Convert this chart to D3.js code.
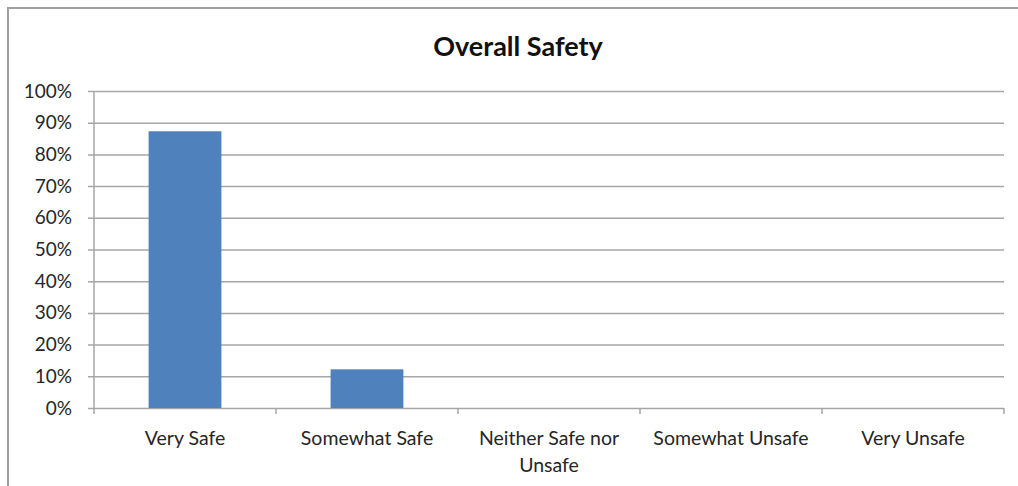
<!DOCTYPE html>
<html>
<head>
<meta charset="utf-8">
<script src="https://cdn.jsdelivr.net/npm/d3@7"></script>
<style>
  body { margin: 0; background: #fff; }
  svg text { font-family: Lato, "Open Sans", sans-serif; fill: #262626; }
</style>
</head>
<body>
<div class="bar-chart"></div>
<script>
// Data
const categories = ["Very Safe", "Somewhat Safe", "Neither Safe nor|Unsafe", "Somewhat Unsafe", "Very Unsafe"];
const shares = [0.873, 0.122, 0, 0, 0];
const yTicks = [0, 0.1, 0.2, 0.3, 0.4, 0.5, 0.6, 0.7, 0.8, 0.9, 1];

// Setup
const width = 1018, height = 486;
const margin = { top: 91, right: 14, bottom: 78, left: 94 };
const innerW = width - margin.left - margin.right;
const innerH = height - margin.top - margin.bottom;

const svg = d3.select(".bar-chart")
  .append("svg")
  .attr("width", width)
  .attr("height", height);

// frame (only top + left edges visible in the source)
svg.append("path")
  .attr("d", "M8,486 L8,8 L1018,8")
  .attr("fill", "none")
  .attr("stroke", "#a0a0a0")
  .attr("stroke-width", 2);

svg.append("text")
  .attr("x", 518)
  .attr("y", 56)
  .attr("text-anchor", "middle")
  .style("font-size", "27px")
  .style("font-weight", "bold")
  .style("fill", "#111")
  .text("Overall Safety");

const x = d3.scaleBand()
  .domain(categories)
  .range([0, innerW])
  .paddingInner(0.6)
  .paddingOuter(0.3);

const xEdge = d3.scaleLinear()
  .domain([0, categories.length])
  .range([0, innerW]);

const y = d3.scaleLinear()
  .domain([0, 1])
  .range([innerH, 0]);

const g = svg.append("g")
  .attr("transform", `translate(${margin.left},${margin.top})`);

// gridlines + y labels
const yAxis = g.append("g")
  .call(d3.axisLeft(y)
    .tickValues(yTicks)
    .tickSize(-innerW)
    .tickPadding(22)
    .tickFormat(d3.format(".0%")));

yAxis.select(".domain").remove();
yAxis.selectAll(".tick line")
  .attr("x1", -6)
  .attr("stroke", "#a6a6a6")
  .attr("stroke-width", 1.5);
yAxis.selectAll(".tick text")
  .style("font-size", "19px");

// y axis line
g.append("line")
  .attr("x1", 0).attr("x2", 0)
  .attr("y1", 0).attr("y2", innerH)
  .attr("stroke", "#a6a6a6")
  .attr("stroke-width", 1.5);

// category boundary ticks
g.append("g")
  .selectAll("line")
  .data(d3.range(categories.length + 1))
  .enter()
  .append("line")
  .attr("x1", d => xEdge(d))
  .attr("x2", d => xEdge(d))
  .attr("y1", innerH)
  .attr("y2", innerH + 6)
  .attr("stroke", "#a6a6a6")
  .attr("stroke-width", 1.5);

// bars
g.append("g")
  .selectAll("rect")
  .data(shares)
  .enter()
  .append("rect")
  .attr("x", (d, i) => x(categories[i]))
  .attr("width", x.bandwidth())
  .attr("y", d => y(d))
  .attr("height", d => innerH - y(d))
  .attr("fill", "#4f81bd");

// x labels
const labels = g.append("g")
  .selectAll("text")
  .data(categories)
  .enter()
  .append("text")
  .attr("text-anchor", "middle")
  .attr("transform", d => `translate(${x(d) + x.bandwidth() / 2},${innerH + 37})`)
  .style("font-size", "19.5px");

labels.selectAll("tspan")
  .data(d => d.split("|"))
  .enter()
  .append("tspan")
  .attr("x", 0)
  .attr("dy", (d, i) => i === 0 ? 0 : 27)
  .text(d => d);
</script>
</body>
</html>
